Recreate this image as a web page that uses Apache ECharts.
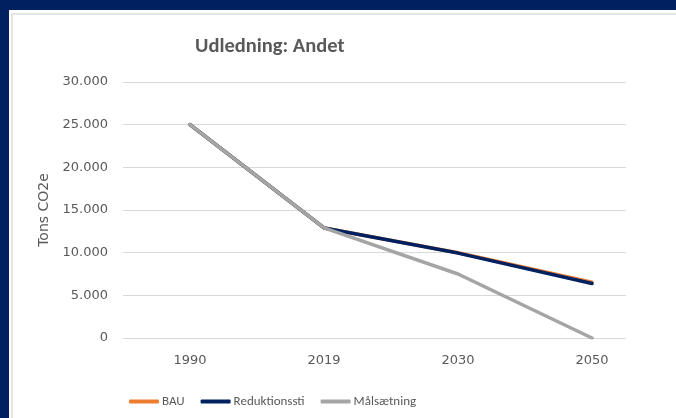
<!DOCTYPE html>
<html>
<head>
<meta charset="utf-8">
<script src="https://cdn.jsdelivr.net/npm/echarts@6/dist/echarts.min.js"></script>
<style>
  html, body { margin: 0; padding: 0; }
  body { width: 676px; height: 418px; background: #002060; position: relative; overflow: hidden; }
  #panel { position: absolute; left: 9px; top: 10px; right: 0; bottom: 0; background: #fff; }
  #edge { position: absolute; left: 2px; top: 3px; right: 0; bottom: 0; border-left: 2px solid #e4e4e4; border-top: 2px solid #e4e4e4; }
  #chart { position: absolute; left: 0; top: 0; width: 676px; height: 418px; }
</style>
</head>
<body>
<div id="panel"><div id="edge"></div></div>
<div id="chart"></div>
<script>
const years = ['1990', '2019', '2030', '2050']
const bau = [25000, 12900, 10000, 6550]
const reduktion = [25000, 12900, 9950, 6380]
const maal = [25000, 12900, 7500, 0]

const narrow = "Carlito, 'Liberation Sans Narrow', sans-serif"
const wide = "'DejaVu Sans', sans-serif"
const grey = '#595959'

let chart = echarts.init(document.getElementById('chart'))

let makeLine = (name, data, color) => ({
  name: name,
  type: 'line',
  data: data,
  xAxisIndex: 1,
  yAxisIndex: 1,
  showSymbol: false,
  symbol: 'none',
  lineStyle: { color: color, width: 3.5, cap: 'round' },
  itemStyle: { color: color }
})

let options = {
  animation: false,
  title: {
    text: 'Udledning: Andet',
    left: 190,
    top: 31,
    textStyle: { fontFamily: narrow, fontSize: 20.5, fontWeight: 'bold', color: grey }
  },
  legend: {
    left: 124,
    top: 390,
    icon: 'roundRect',
    itemWidth: 30,
    itemHeight: 4,
    itemGap: 16,
    textStyle: { fontFamily: narrow, fontSize: 13, color: grey, padding: [0, 0, 0, -2] },
    data: ['BAU', 'Reduktionssti', 'Målsætning']
  },
  // grid 0 carries the gridlines, grid 1 the plotted categories
  grid: [
    { left: 123, right: 50, top: 82, bottom: 80 },
    { left: 123, right: 17, top: 82, bottom: 80 }
  ],
  xAxis: [
    { gridIndex: 0, type: 'category', data: years, show: false },
    {
      gridIndex: 1,
      type: 'category',
      data: years,
      boundaryGap: true,
      axisLine: { show: false },
      axisTick: { show: false },
      axisLabel: { color: grey, fontSize: 13, margin: 16, fontFamily: wide }
    }
  ],
  yAxis: [
    {
      gridIndex: 0,
      type: 'value',
      min: 0,
      max: 30000,
      interval: 5000,
      name: 'Tons CO2e',
      nameLocation: 'middle',
      nameGap: 65,
      nameTextStyle: { color: grey, fontSize: 14, fontFamily: wide },
      axisLine: { show: false },
      axisTick: { show: false },
      splitLine: { lineStyle: { color: '#d9d9d9' } },
      axisLabel: {
        color: grey,
        fontSize: 13,
        margin: 15,
        fontFamily: wide,
        formatter: v => v === 0 ? '0' : v.toLocaleString('da-DK').replace(/,/g, '.')
      }
    },
    { gridIndex: 1, type: 'value', min: 0, max: 30000, show: false }
  ],
  series: [
    makeLine('BAU', bau, '#ED7D31'),
    makeLine('Reduktionssti', reduktion, '#002060'),
    makeLine('Målsætning', maal, '#A5A5A5')
  ]
}
chart.setOption(options)
</script>
</body>
</html>
